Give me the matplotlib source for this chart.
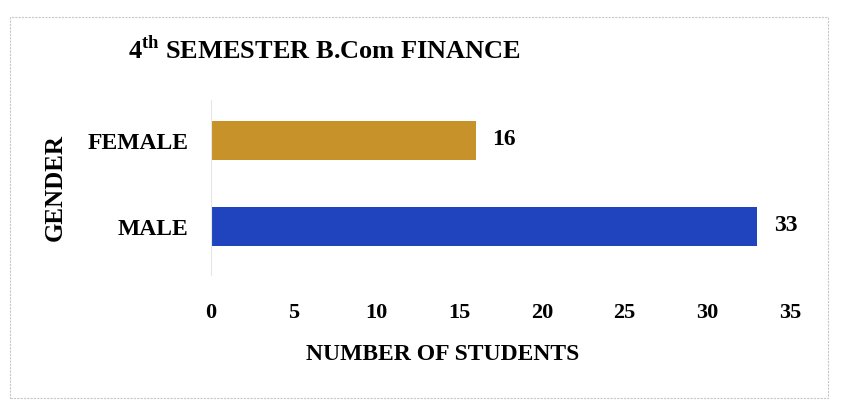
import matplotlib
matplotlib.use("Agg")
import matplotlib.pyplot as plt
from matplotlib.patches import Rectangle

genders = ["MALE", "FEMALE"]
students = [33, 16]
bar_colors = ["#1f44bd", "#c8922b"]
x_ticks = [0, 5, 10, 15, 20, 25, 30, 35]

plt.rcParams["font.family"] = "Liberation Serif"
plt.rcParams["font.weight"] = "bold"
plt.rcParams["mathtext.fontset"] = "custom"
plt.rcParams["mathtext.rm"] = "Liberation Serif:bold"
plt.rcParams["mathtext.bf"] = "Liberation Serif:bold"

fig = plt.figure(figsize=(8.41, 4.03), dpi=100)
fig.patch.set_facecolor("white")

W, H = 841, 403
# faint box around the chart
fig.patches.append(Rectangle((10 / W, 5 / H), 818 / W, 381 / H, transform=fig.transFigure,
                             fill=False, edgecolor="#c8c8c8", linewidth=0.8, linestyle=(0, (2, 1))))

ax = fig.add_axes([211 / W, 1 - 275 / H, 579 / W, 175 / H])
bars = ax.barh(genders, students, height=0.45, color=bar_colors)

ax.set_xlim(0, 35)
ax.set_ylim(-0.56, 1.47)
ax.set_xticks(x_ticks)
ax.tick_params(axis="x", length=0, pad=20, labelsize=16)
ax.tick_params(axis="y", length=0, pad=16, labelsize=17)
for s in ["top", "right", "bottom"]:
    ax.spines[s].set_visible(False)
ax.spines["left"].set_color("#e6e6e6")
ax.spines["left"].set_linewidth(0.8)

for b, v in zip(bars, students):
    ax.annotate(str(v), (b.get_width(), b.get_y() + b.get_height() * 0.5),
                xytext=(12, 1), textcoords="offset points", va="center",
                fontsize=17, fontweight="bold")

fig.text(128 / W, 1 - 50 / H, r"4$^{\mathrm{th}}$ SEMESTER B.Com FINANCE",
         fontsize=19, fontweight="bold", va="center", ha="left")
fig.text(55 / W, 1 - 187 / H, "GENDER", rotation=90, fontsize=18,
         fontweight="bold", va="center", ha="center")
fig.text(443 / W, 1 - 355 / H, "NUMBER OF STUDENTS", fontsize=17,
         fontweight="bold", va="center", ha="center")

fig.savefig("out.png", dpi=100)
